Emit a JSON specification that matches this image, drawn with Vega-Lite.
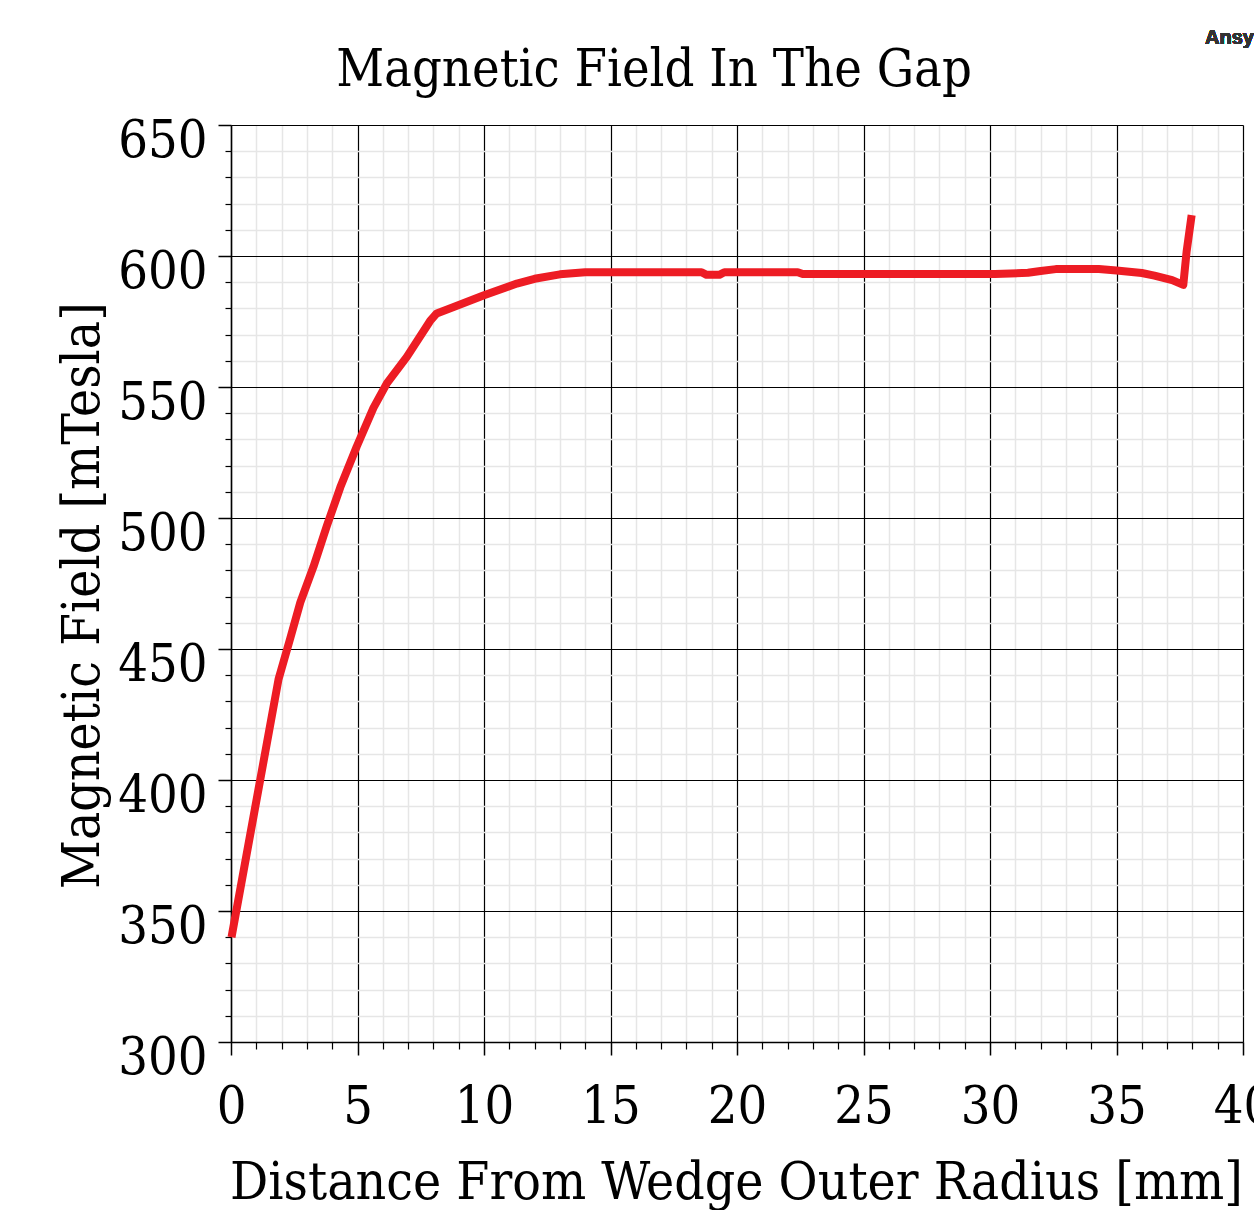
{
  "$schema": "https://vega.github.io/schema/vega-lite/v6.json",
  "autosize": {"type": "none"},
  "padding": {"left": 231, "top": 125, "right": 11, "bottom": 168},
  "width": 1012,
  "height": 917,
  "background": "white",
  "config": {"view": {"stroke": null}},
  "title": {
    "text": "Magnetic Field In The Gap",
    "font": "DejaVu Serif Condensed, DejaVu Serif",
    "fontSize": 52,
    "fontWeight": "normal",
    "color": "black",
    "anchor": "middle",
    "frame": "group",
    "baseline": "alphabetic",
    "dx": -83,
    "offset": -110
  },
  "data": {
    "values": [
      {"d": 0.02, "b": 340},
      {"d": 1.88, "b": 438.5},
      {"d": 2.34, "b": 454},
      {"d": 2.74, "b": 467.8},
      {"d": 3.26, "b": 481.4},
      {"d": 3.79, "b": 497},
      {"d": 4.32, "b": 511.7},
      {"d": 4.97, "b": 527.3},
      {"d": 5.63, "b": 542},
      {"d": 6.16, "b": 551.4},
      {"d": 6.95, "b": 561.5},
      {"d": 7.87, "b": 575.2},
      {"d": 8.13, "b": 578.1},
      {"d": 8.8, "b": 580.5},
      {"d": 10, "b": 585},
      {"d": 11.3, "b": 589.5},
      {"d": 12, "b": 591.3},
      {"d": 13, "b": 593},
      {"d": 14, "b": 593.8},
      {"d": 18.6, "b": 593.8},
      {"d": 18.8, "b": 592.8},
      {"d": 19.3, "b": 592.8},
      {"d": 19.5, "b": 593.8},
      {"d": 22.4, "b": 593.8},
      {"d": 22.6, "b": 593.1},
      {"d": 30.2, "b": 593.1},
      {"d": 31.5, "b": 593.6},
      {"d": 32, "b": 594.3},
      {"d": 32.6, "b": 595},
      {"d": 34.3, "b": 595},
      {"d": 35, "b": 594.5},
      {"d": 36, "b": 593.5},
      {"d": 36.5, "b": 592.5},
      {"d": 37.2, "b": 590.8},
      {"d": 37.64, "b": 589},
      {"d": 37.77, "b": 601.6},
      {"d": 37.97, "b": 615.6}
    ]
  },
  "layer": [
    {
      "mark": {"type": "text", "text": "Ansys", "font": "Liberation Sans", "fontWeight": "bold", "fontSize": 20, "color": "#333333", "align": "left", "baseline": "alphabetic", "clip": false},
      "encoding": {
        "x": {
          "datum": 38.5,
          "type": "quantitative",
          "scale": {"domain": [0, 40], "nice": false, "zero": false},
          "axis": {
            "orient": "bottom",
            "values": [1,2,3,4,6,7,8,9,11,12,13,14,16,17,18,19,21,22,23,24,26,27,28,29,31,32,33,34,36,37,38,39],
            "title": null,
            "labels": false,
            "domain": false,
            "grid": true,
            "gridColor": "#e6e6e6",
            "gridWidth": 1.5,
            "ticks": true,
            "tickSize": 7,
            "tickColor": "black",
            "tickWidth": 1.2
          }
        },
        "y": {
          "datum": 681,
          "type": "quantitative",
          "scale": {"domain": [300, 650], "nice": false, "zero": false},
          "axis": {
            "orient": "left",
            "values": [310,320,330,340,360,370,380,390,410,420,430,440,460,470,480,490,510,520,530,540,560,570,580,590,610,620,630,640],
            "title": null,
            "labels": false,
            "domain": false,
            "grid": true,
            "gridColor": "#e6e6e6",
            "gridWidth": 1.5,
            "ticks": true,
            "tickSize": 6,
            "tickColor": "black",
            "tickWidth": 1.2
          }
        }
      }
    },
    {
      "mark": {"type": "line", "color": "#ed1c24", "strokeWidth": 8, "strokeJoin": "round"},
      "encoding": {
        "x": {
          "field": "d",
          "type": "quantitative",
          "axis": {
            "orient": "bottom",
            "values": [0,5,10,15,20,25,30,35,40],
            "title": "Distance From Wedge Outer Radius [mm]",
            "titleFont": "DejaVu Serif Condensed, DejaVu Serif",
            "titleFontSize": 53,
            "titleFontWeight": "normal",
            "titleColor": "black",
            "titleAnchor": "middle",
            "titleX": 505,
            "titleY": 156,
            "titleBaseline": "alphabetic",
            "labelFont": "DejaVu Serif Condensed, DejaVu Serif",
            "labelFontSize": 52,
            "labelColor": "black",
            "labelBaseline": "alphabetic",
            "labelPadding": 67,
            "labelFlush": false,
            "labelOverlap": false,
            "domain": true,
            "domainColor": "black",
            "domainWidth": 1.5,
            "grid": true,
            "gridColor": "black",
            "gridWidth": 1.2,
            "ticks": true,
            "tickSize": 13,
            "tickColor": "black",
            "tickWidth": 1.5
          }
        },
        "y": {
          "field": "b",
          "type": "quantitative",
          "axis": {
            "orient": "left",
            "values": [300,350,400,450,500,550,600,650],
            "title": "Magnetic Field [mTesla]",
            "titleFont": "DejaVu Serif Condensed, DejaVu Serif",
            "titleFontSize": 53,
            "titleFontWeight": "normal",
            "titleColor": "black",
            "titleAngle": -90,
            "titleX": -133,
            "titleY": 470,
            "titleAlign": "center",
            "titleBaseline": "alphabetic",
            "labelFont": "DejaVu Serif Condensed, DejaVu Serif",
            "labelFontSize": 52,
            "labelColor": "black",
            "labelAlign": "right",
            "labelBaseline": "alphabetic",
            "labelOffset": 31,
            "labelPadding": 11,
            "labelFlush": false,
            "labelOverlap": false,
            "domain": true,
            "domainColor": "black",
            "domainWidth": 1.5,
            "grid": true,
            "gridColor": "black",
            "gridWidth": 1.2,
            "ticks": true,
            "tickSize": 13,
            "tickColor": "black",
            "tickWidth": 1.5
          }
        }
      }
    }
  ],
  "resolve": {"axis": {"x": "independent", "y": "independent"}}
}
